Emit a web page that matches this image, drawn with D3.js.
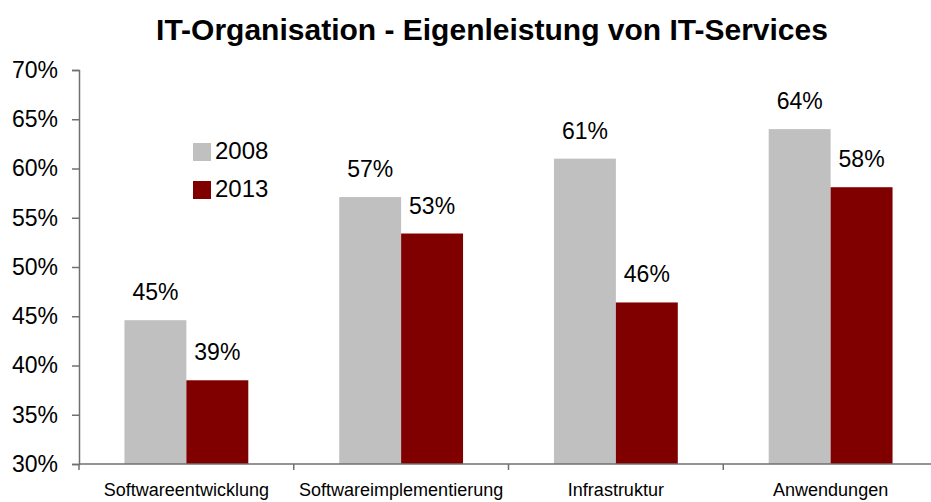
<!DOCTYPE html>
<meta charset="utf-8">
<style>
  body { margin: 0; background: #fff; }
  text { font-family: "Liberation Sans", Arial, sans-serif; fill: #000; }
  .title { font-size: 30px; font-weight: bold; }
  .val, .ytick { font-size: 23px; }
  .leg { font-size: 24px; }
  .cat { font-size: 18px; }
</style>
<svg width="931" height="502"></svg>
<script src="https://d3js.org/d3.v7.min.js"></script>
<script>
var categories = ["Softwareentwicklung", "Softwareimplementierung", "Infrastruktur", "Anwendungen"];
var series = ["2008", "2013"];
var values2008 = [44.6, 57.1, 61.0, 64.0];
var values2013 = [38.5, 53.4, 46.4, 58.1];
var labels2008 = ["45%", "57%", "61%", "64%"];
var labels2013 = ["39%", "53%", "46%", "58%"];
var yTicks = [30, 35, 40, 45, 50, 55, 60, 65, 70];
var colors = { "2008": "#C0C0C0", "2013": "#800000" };

var svg = d3.select("svg");

var x0 = d3.scaleBand().domain(categories).range([79, 938]);
var x1 = d3.scaleBand().domain(series).range([0, x0.bandwidth()]).paddingOuter(0.734);
var y = d3.scaleLinear().domain([30, 70]).range([464, 70]);

// title
svg.append("text")
    .attr("class", "title")
    .attr("x", 492)
    .attr("y", 40)
    .attr("text-anchor", "middle")
    .text("IT-Organisation - Eigenleistung von IT-Services");

// bars
var rows = categories.map(function(c, i) {
  return { cat: c, vals: [
    { s: "2008", v: values2008[i], lab: labels2008[i] },
    { s: "2013", v: values2013[i], lab: labels2013[i] }
  ]};
});

var g = svg.selectAll(".grp")
    .data(rows)
    .enter()
    .append("g")
    .attr("transform", function(d) { return "translate(" + x0(d.cat) + ",0)"; });

g.selectAll("rect")
    .data(function(d) { return d.vals; })
    .enter()
    .append("rect")
    .attr("x", function(d) { return x1(d.s); })
    .attr("y", function(d) { return y(d.v); })
    .attr("width", x1.bandwidth())
    .attr("height", function(d) { return y(30) - y(d.v); })
    .attr("fill", function(d) { return colors[d.s]; });

g.selectAll(".val")
    .data(function(d) { return d.vals; })
    .enter()
    .append("text")
    .attr("class", "val")
    .attr("x", function(d) { return x1(d.s) + x1.bandwidth() / 2; })
    .attr("y", function(d) { return y(d.v) - 20; })
    .attr("text-anchor", "middle")
    .text(function(d) { return d.lab; });

// y axis
var yAxis = svg.append("g")
    .attr("transform", "translate(79,0)")
    .call(d3.axisLeft(y).tickValues(yTicks).tickSize(7).tickPadding(14)
      .tickFormat(function(d) { return d + "%"; }));
yAxis.select(".domain").attr("stroke", "#707070").attr("stroke-width", 1.5);
yAxis.selectAll(".tick line").attr("stroke", "#707070").attr("stroke-width", 1.5);
yAxis.selectAll(".tick text").attr("class", "ytick").attr("font-family", null).attr("font-size", null);

// x axis
svg.append("line")
    .attr("x1", 79).attr("x2", 938)
    .attr("y1", y(30)).attr("y2", y(30))
    .attr("stroke", "#707070").attr("stroke-width", 1.5);

var bounds = categories.map(function(c) { return x0(c); });
svg.selectAll(".xt")
    .data(bounds)
    .enter()
    .append("line")
    .attr("x1", function(d) { return d; })
    .attr("x2", function(d) { return d; })
    .attr("y1", y(30))
    .attr("y2", y(30) + 6)
    .attr("stroke", "#707070").attr("stroke-width", 1.5);

svg.selectAll(".cat")
    .data(categories)
    .enter()
    .append("text")
    .attr("class", "cat")
    .attr("x", function(d) { return x0(d) + x0.bandwidth() / 2; })
    .attr("y", 496)
    .attr("text-anchor", "middle")
    .text(function(d) { return d; });

// legend
var leg = svg.selectAll(".legitem")
    .data(series)
    .enter()
    .append("g")
    .attr("transform", function(d, i) { return "translate(193," + (143 + i * 38) + ")"; });

leg.append("rect")
    .attr("width", 18)
    .attr("height", 18)
    .attr("fill", function(d) { return colors[d]; });

leg.append("text")
    .attr("class", "leg")
    .attr("x", 22)
    .attr("y", 16)
    .text(function(d) { return d; });
</script>
